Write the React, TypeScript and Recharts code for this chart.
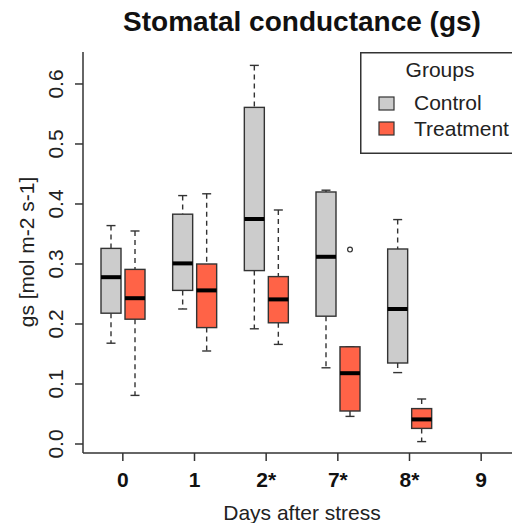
import React from 'react';
import { ComposedChart, Bar, XAxis, YAxis, Legend } from 'recharts';

const days = ['0', '1', '2*', '7*', '8*', '9'];

const controlMin = [0.168, 0.225, 0.192, 0.127, 0.119, null];
const controlQ1 = [0.218, 0.256, 0.289, 0.213, 0.135, null];
const controlMedian = [0.278, 0.301, 0.375, 0.312, 0.225, null];
const controlQ3 = [0.326, 0.383, 0.561, 0.42, 0.325, null];
const controlMax = [0.364, 0.414, 0.631, 0.423, 0.374, null];
const controlOutliers: number[][] = [[], [], [], [], [], []];

const treatMin = [0.081, 0.155, 0.166, 0.046, 0.004, null];
const treatQ1 = [0.208, 0.194, 0.202, 0.055, 0.026, null];
const treatMedian = [0.243, 0.256, 0.241, 0.118, 0.041, null];
const treatQ3 = [0.291, 0.3, 0.279, 0.162, 0.059, null];
const treatMax = [0.355, 0.417, 0.39, 0.162, 0.075, null];
const treatOutliers: number[][] = [[], [], [], [0.324], [], []];

const yTicks = [0, 0.1, 0.2, 0.3, 0.4, 0.5, 0.6];

const FONT = '"Liberation Sans", Arial, sans-serif';
const INK = '#333333';
const CONTROL_FILL = '#cccccc';
const TREAT_FILL = '#ff6347';

type Stats = { min: number; q1: number; med: number; q3: number; max: number; out: number[] } | null;

const mk = (mn: any[], q1: any[], md: any[], q3: any[], mx: any[], out: number[][], i: number): Stats =>
  mn[i] == null ? null : { min: mn[i], q1: q1[i], med: md[i], q3: q3[i], max: mx[i], out: out[i] };

const data = days.map((d, i) => {
  const c = mk(controlMin, controlQ1, controlMedian, controlQ3, controlMax, controlOutliers, i);
  const t = mk(treatMin, treatQ1, treatMedian, treatQ3, treatMax, treatOutliers, i);
  return {
    day: d,
    control: c ? [c.min, c.max] : null,
    treatment: t ? [t.min, t.max] : null,
    cStats: c,
    tStats: t,
  };
});

const makeBox = (key: 'cStats' | 'tStats', fill: string) => (props: any) => {
  const { x, y, width, height, payload } = props;
  const s: Stats = payload ? payload[key] : null;
  if (!s || x == null || y == null) return <g />;
  const top = Math.min(y, y + height);
  const bot = Math.max(y, y + height);
  const span = s.max - s.min;
  const px = (v: number) => (span === 0 ? top : bot - ((v - s.min) / span) * (bot - top));
  const cx = x + width / 2;
  const cap = 4.5;
  const yMax = px(s.max);
  const yQ3 = px(s.q3);
  const yQ1 = px(s.q1);
  const yMin = px(s.min);
  const yMed = px(s.med);
  return (
    <g>
      <line x1={cx} x2={cx} y1={yMax} y2={yQ3} stroke={INK} strokeWidth={1.4} strokeDasharray="5 4" />
      <line x1={cx} x2={cx} y1={yQ1} y2={yMin} stroke={INK} strokeWidth={1.4} strokeDasharray="5 4" />
      <line x1={cx - cap} x2={cx + cap} y1={yMax} y2={yMax} stroke={INK} strokeWidth={1.4} />
      <line x1={cx - cap} x2={cx + cap} y1={yMin} y2={yMin} stroke={INK} strokeWidth={1.4} />
      <rect x={x} y={yQ3} width={width} height={Math.max(0, yQ1 - yQ3)} fill={fill} stroke={INK} strokeWidth={1.4} />
      <line x1={x} x2={x + width} y1={yMed} y2={yMed} stroke="#000" strokeWidth={4} />
      {s.out.map((o, k) => (
        <circle key={k} cx={cx} cy={px(o)} r={2.4} fill="none" stroke={INK} strokeWidth={1.2} />
      ))}
    </g>
  );
};

const YTick = (props: any) => {
  const { x, y, payload } = props;
  return (
    <text
      transform={`translate(${x},${y}) rotate(-90)`}
      textAnchor="middle"
      fontFamily={FONT}
      fontSize={21}
      fill="#222"
    >
      {Number(payload.value).toFixed(1)}
    </text>
  );
};

const XTick = (props: any) => {
  const { x, y, payload } = props;
  return (
    <text x={x} y={y + 26} textAnchor="middle" fontFamily={FONT} fontSize={21} fontWeight="bold" fill="#111">
      {payload.value}
    </text>
  );
};

const LegendBox = () => (
  <svg width={170} height={102} style={{ display: 'block' }}>
    <rect x={0.75} y={0.75} width={200} height={100.5} fill="#fff" stroke={INK} strokeWidth={1.5} />
    <text x={80} y={25} textAnchor="middle" fontFamily={FONT} fontSize={21} fill="#222">Groups</text>
    <rect x={19} y={45} width={15} height={13} fill={CONTROL_FILL} stroke={INK} strokeWidth={1.2} />
    <text x={54} y={58} fontFamily={FONT} fontSize={21} fill="#222">Control</text>
    <rect x={19} y={70} width={15} height={13} fill={TREAT_FILL} stroke={INK} strokeWidth={1.2} />
    <text x={54} y={84} fontFamily={FONT} fontSize={21} fill="#222">Treatment</text>
  </svg>
);

export default function App() {
  return (
    <div style={{ position: 'absolute', left: 0, top: 0, width: 512, height: 523, overflow: 'hidden', background: '#fff' }}>
      <ComposedChart
        width={540}
        height={523}
        data={data}
        margin={{ top: 52, right: 19, bottom: 0, left: 0 }}
        barGap={4}
        barCategoryGap={0}
      >
        <XAxis
          xAxisId="top"
          orientation="top"
          dataKey="day"
          height={0}
          tick={false}
          tickLine={false}
          axisLine={{ stroke: INK, strokeWidth: 1.5 }}
          padding={{ left: 4, right: 4 }}
        />
        <XAxis
          dataKey="day"
          height={70}
          tick={<XTick />}
          tickSize={8}
          tickMargin={0}
          tickLine={{ stroke: INK, strokeWidth: 1.5 }}
          axisLine={{ stroke: INK, strokeWidth: 1.5 }}
          padding={{ left: 4, right: 4 }}
        />
        <YAxis
          type="number"
          domain={[-0.015, 0.6533]}
          ticks={yTicks}
          width={83}
          tick={<YTick />}
          tickSize={8}
          tickMargin={12}
          tickLine={{ stroke: INK, strokeWidth: 1.5 }}
          axisLine={{ stroke: INK, strokeWidth: 1.5 }}
          allowDataOverflow
        />
        <Bar dataKey="control" barSize={20} shape={makeBox('cStats', CONTROL_FILL)} isAnimationActive={false} name="Control" />
        <Bar dataKey="treatment" barSize={20} shape={makeBox('tStats', TREAT_FILL)} isAnimationActive={false} name="Treatment" />
        <Legend
          layout="horizontal"
          align="center"
          verticalAlign="middle"
          content={<LegendBox />}
          wrapperStyle={{ position: 'absolute', left: 360, top: 52, width: 170, height: 102, margin: 0, padding: 0 }}
        />
        <text x={302} y={31} textAnchor="middle" fontFamily={FONT} fontSize={28} fontWeight="bold" fill="#111">
          Stomatal conductance (gs)
        </text>
        <text transform="translate(34,252) rotate(-90)" textAnchor="middle" fontFamily={FONT} fontSize={21} fill="#222">
          gs [mol m-2 s-1]
        </text>
        <text x={302} y={520} textAnchor="middle" fontFamily={FONT} fontSize={21} fill="#222">
          Days after stress
        </text>
      </ComposedChart>
    </div>
  );
}
